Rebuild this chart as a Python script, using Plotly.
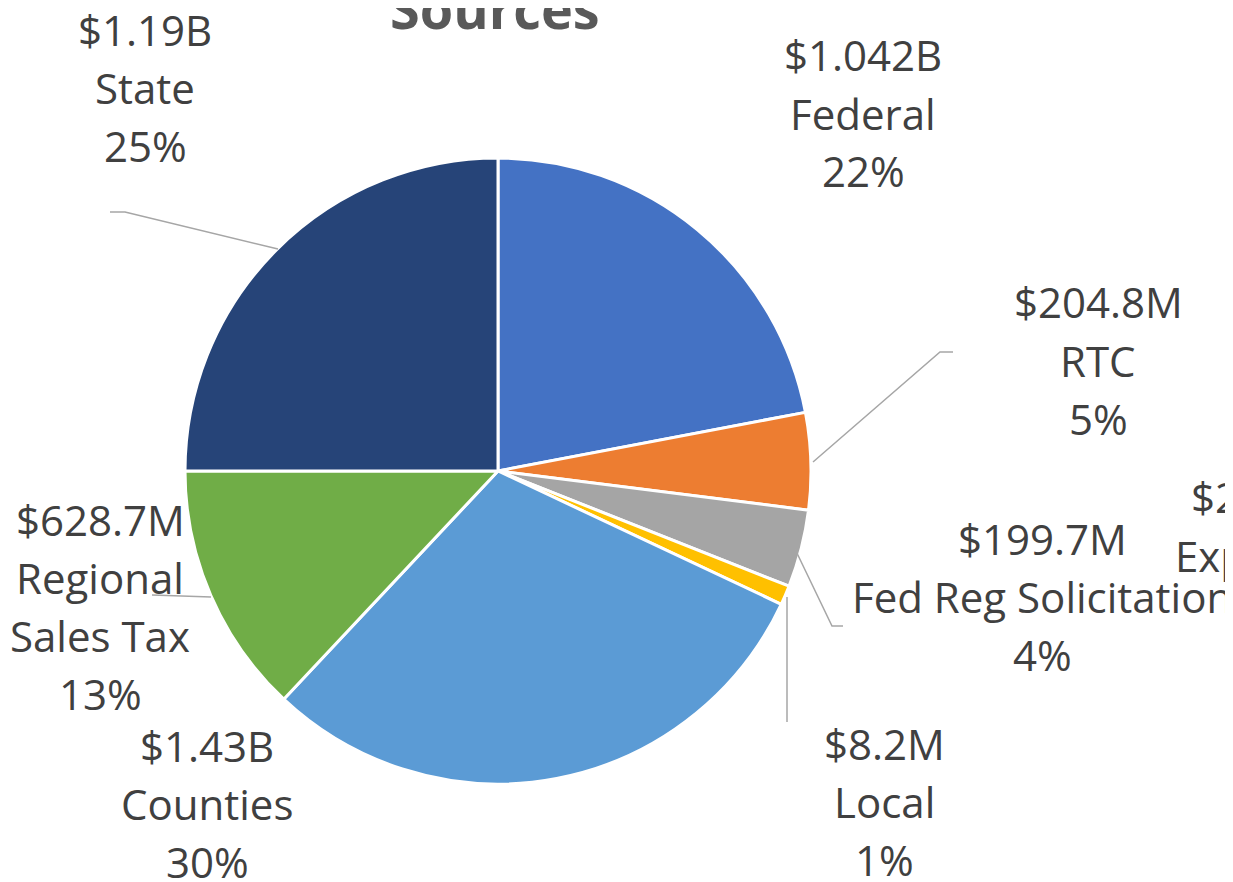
import plotly.graph_objects as go

# Data
categories = ["Federal", "RTC", "Fed Reg Solicitation", "Local", "Counties", "Regional Sales Tax", "State"]
shares = [22, 5, 4, 1, 30, 13, 25]  # percent of total
amounts = ["$1.042B", "$204.8M", "$199.7M", "$8.2M", "$1.43B", "$628.7M", "$1.19B"]
colors = ["#4472C4", "#ED7D31", "#A5A5A5", "#FFC000", "#5B9BD5", "#70AD47", "#264478"]
extra_label = ["$2.5M", "Express"]

W, H = 1233, 882
OFF = 8  # page body margin
FONT = "Open Sans"
LABEL_COLOR = "#404040"
LINE_COLOR = "#A6A6A6"
FS = 42
LH = 58

cx, cy, r = 498 - OFF, 471 - OFF, 313


def px(x):
    return (x - OFF) / W


def py(y):
    return 1 - (y - OFF) / H


fig = go.Figure(go.Pie(
    labels=categories,
    values=shares,
    sort=False,
    direction="clockwise",
    rotation=0,
    marker=dict(colors=colors, line=dict(color="white", width=3)),
    textinfo="none",
    hoverinfo="label+percent",
    showlegend=False,
    domain=dict(x=[(cx - r) / W, (cx + r) / W], y=[(H - cy - r) / H, (H - cy + r) / H]),
))

label_lines = {
    "Federal": [amounts[0], "Federal", "22%"],
    "RTC": [amounts[1], "RTC", "5%"],
    "Fed Reg Solicitation": [amounts[2], "Fed Reg Solicitation", "4%"],
    "Local": [amounts[3], "Local", "1%"],
    "Counties": [amounts[4], "Counties", "30%"],
    "Regional Sales Tax": [amounts[5], "Regional", "Sales Tax", "13%"],
    "State": [amounts[6], "State", "25%"],
    "Express": extra_label,
}
# (center x, first line center y) in pixels
label_pos = {
    "Federal": (863, 55),
    "RTC": (1098, 302),
    "Fed Reg Solicitation": (1042, 538),
    "Local": (885, 743),
    "Counties": (207, 745),
    "Regional Sales Tax": (100, 519),
    "State": (145, 29),
    "Express": (1251, 497),
}

annotations = []
for name, lines in label_lines.items():
    x, y0 = label_pos[name]
    for i, line in enumerate(lines):
        annotations.append(dict(
            x=px(x), y=py(y0 + i * LH), xref="paper", yref="paper",
            text=line, showarrow=False,
            xanchor="center", yanchor="middle", align="center",
            font=dict(family=FONT, size=FS, color=LABEL_COLOR),
        ))

# title (cut at top)
annotations.append(dict(
    x=px(495), y=py(8), xref="paper", yref="paper",
    text="<b>Sources</b>", showarrow=False,
    xanchor="center", yanchor="middle",
    font=dict(family=FONT, size=54, color="#595959"),
))

# leader lines
leaders = [
    [(110, 212), (125, 212), (278, 249)],
    [(953, 352), (940, 352), (813, 462)],
    [(795, 549), (832, 626), (843, 626)],
    [(787, 597), (787, 722)],
    [(152, 595), (211, 597)],
]
shapes = []
for pts in leaders:
    path = "M " + " L ".join(f"{px(x)},{py(y)}" for x, y in pts)
    shapes.append(dict(type="path", path=path, xref="paper", yref="paper",
                       line=dict(color=LINE_COLOR, width=1.5)))

fig.update_layout(
    width=W, height=H,
    margin=dict(l=0, r=0, t=0, b=0),
    paper_bgcolor="white",
    plot_bgcolor="white",
    annotations=annotations,
    shapes=shapes,
)

fig.write_html("out.html")
